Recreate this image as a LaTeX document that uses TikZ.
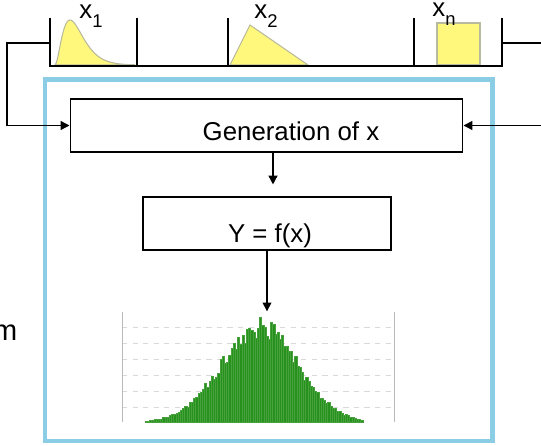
\documentclass[tikz,border=0pt]{standalone}
\usepackage{fontspec}
\setmainfont{Liberation Sans}
\usetikzlibrary{arrows.meta}
\definecolor{frameblue}{RGB}{140,205,230}
\definecolor{distyellow}{RGB}{255,248,125}
\definecolor{distedge}{RGB}{185,185,155}
\definecolor{histgreen}{RGB}{38,145,28}
\newcommand{\lowsub}[1]{\raisebox{-0.35em}{\fontsize{10.5}{12}\selectfont #1}}
\tikzset{
  lbl/.style={font=\fontsize{14.7}{17}\selectfont, inner sep=0pt},
  box/.style={draw, line width=0.6pt, inner sep=0pt},
  dist/.style={draw=distedge, fill=distyellow, line width=0.6pt},
}
\begin{document}
\begin{tikzpicture}[x=0.02cm, y=-0.02cm, line width=0.8pt, >={Triangle[length=5pt,width=5pt]}]
    \useasboundingbox (0,0) rectangle (541,446);
    % sampling tray
    \draw[dist] plot[domain=0:80, samples=60, smooth, variable=\x] ({55+\x},{65-45*(\x/15)^2*exp(2*(1-\x/15))}) -- cycle;
    \draw[dist] (230,65) -- (250,25) -- (308,65) -- cycle;
    \draw[dist] (437,23) rectangle (480,65);
    \draw (50,18) -- (50,66) -- (502,66) -- (502,18);
    \foreach \v in {137,228,414}
        \draw (\v,18) -- (\v,66);
    \node[lbl] (lx1) at (91,16) {x\lowsub{1}};
    \node[lbl] (lx2) at (266,16) {x\lowsub{2}};
    \node[lbl] (lxn) at (444,14) {x\lowsub{n}};
    \coordinate (trayL) at (50,43);
    \coordinate (trayR) at (502,43);
    % simulation loop
    \draw[frameblue, line width=2.8pt] (45,79.5) rectangle (492.5,441);
    \node[box, minimum width=7.86cm, minimum height=1.06cm,
          label={[lbl, name=gentxt, xshift=0.49cm, yshift=-0.12cm]center:Generation of x}] (gen) at (266.5,125.5) {};
    \node[box, minimum width=4.96cm, minimum height=1.06cm,
          label={[lbl, name=fxtxt, xshift=0.06cm, yshift=-0.24cm]center:Y = f(x)}] (fx) at (267,223.5) {};
    \node[minimum width=5.44cm, minimum height=2.2cm, inner sep=0pt] (hist) at (258,367) {};
    \node[font=\fontsize{16.5}{19}\selectfont, anchor=base east, inner sep=0pt] (mlabel) at (18,340) {m};
    % histogram
    \foreach \g in {327,343,...,407}
        \draw[gray!30, line width=0.5pt, dashed] (122,\g) -- (394,\g);
    \draw[gray!55, line width=0.5pt] (122,312) -- (122,422) (394,312) -- (394,422);
    \pgfmathsetseed{17}
    \foreach \i in {0,...,98} {
        \pgfmathsetmacro{\xa}{145+2.2*\i}
        \pgfmathsetmacro{\h}{max(0,95*exp(-((\xa+1.1-259)^2)/(2*38^2))*(1+0.12*rand))}
        \filldraw[fill=histgreen, draw=histgreen!85!white, line width=0.2pt] (\xa,422) rectangle (\xa+2.2,422-\h);
    }
    % connectors
    \coordinate (a1) at (273,0);
    \draw[->] (trayL) -- (7,43) |- (gen.west);
    \draw (trayR) -- (541,43);
    \coordinate (inR) at (541,125.5);
    \draw[->] (inR) -- (gen.east);
    \draw[->, shorten >=0.24cm] (gen.south -| a1) -- (fx.north -| a1);
    \draw[->] (fx.south) -- (fx.south |- hist.north);
\end{tikzpicture}
\end{document}
